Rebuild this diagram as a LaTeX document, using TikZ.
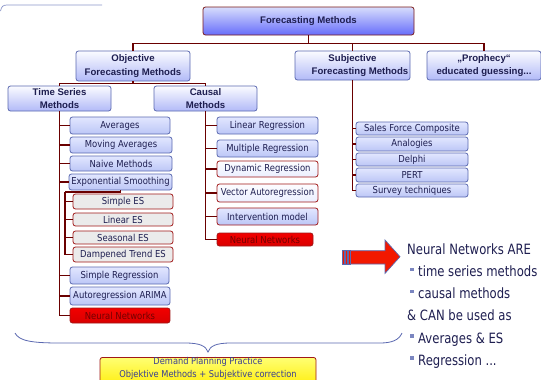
\documentclass[tikz,border=0pt]{standalone}
\usepackage{fontspec}
\setmainfont{Liberation Sans}
\newfontfamily\tah[FakeStretch=0.88]{DejaVu Sans}
\newfontfamily\tahr[FakeStretch=0.82]{DejaVu Sans}
\definecolor{conn}{HTML}{6A0000}
\definecolor{bblue}{HTML}{5A68B0}
\definecolor{navy}{HTML}{1E1E50}
\definecolor{redb}{HTML}{A01818}
\definecolor{lb1}{HTML}{E2E7FF}
\definecolor{lb2}{HTML}{BCC6F6}
\definecolor{txtb}{HTML}{3A3F90}
\tikzset{
  conline/.style={draw=conn, line width=1.8pt},
  boxbase/.style={rounded corners=2.5pt, line width=0.8pt, inner sep=0pt, text=navy},
  headbox/.style={boxbase, draw=bblue, top color=white!85!lb1, bottom color=lb2!90!blue!90, font=\bfseries\fontsize{9.6}{13.6}\selectfont, align=center},
  childbox/.style={boxbase, draw=bblue, top color=lb1, bottom color=lb2, font=\tah\fontsize{9.6}{11}\selectfont},
  esbox/.style={boxbase, draw=redb, fill=black!8, font=\tah\fontsize{9.6}{11}\selectfont},
  palebox/.style={boxbase, draw=redb, top color=white!92!lb1, bottom color=lb1!70!white, font=\tah\fontsize{9.6}{11}\selectfont},
  redbluebox/.style={boxbase, draw=redb, top color=lb1, bottom color=lb2, font=\tah\fontsize{9.6}{11}\selectfont},
  nnbox/.style={boxbase, draw=redb, top color=red!95!black, bottom color=red!85!black, text=red!45!black, font=\tah\fontsize{9.6}{11}\selectfont},
  rtext/.style={anchor=base west, inner sep=0pt, text=navy, font=\tahr\fontsize{14.2}{18}\selectfont},
  bull/.style={fill=bblue!80, minimum size=3.6pt, inner sep=0pt},
}
\begin{document}
\begin{tikzpicture}[x=1pt,y=-1pt]
\useasboundingbox (0,0) rectangle (541,380);
\clip (0,0) rectangle (541,380);

% top-left stray line
\draw[bblue!70, line width=0.7pt] (0.5,11) .. controls (1.5,6.5) and (3,5) .. (7,5) -- (102,5);

% headers
\node[headbox, draw=conn!90, top color=lb1!70!lb2, bottom color=blue!45!lb2, minimum width=211pt, minimum height=28pt] (fm) at (308.5,21) {Forecasting Methods};
\node[headbox, minimum width=114pt, minimum height=30pt] (obj) at (133,66) {Objective\\Forecasting Methods};
\node[headbox, minimum width=115pt, minimum height=29pt] (subj) at (352.5,65.5) {Subjective\\\hspace*{15pt}Forecasting Methods};
\node[headbox, minimum width=114pt, minimum height=29pt] (proph) at (484,65.5) {„Prophecy“\\educated guessing...};
\node[headbox, minimum width=103pt, minimum height=25pt] (ts) at (59.5,98.5) {Time Series\\Methods};
\node[headbox, minimum width=103pt, minimum height=25pt] (causal) at (205.5,98.5) {Causal\\Methods};

% time series children
\node[childbox, minimum width=100pt, minimum height=17pt] (avg) at (120,125.5) {Averages};
\node[childbox, minimum width=102pt, minimum height=16pt] (mavg) at (121,145) {Moving Averages};
\node[childbox, minimum width=102pt, minimum height=15pt] (naive) at (121,163.5) {Naive Methods};
\node[childbox, minimum width=103pt, minimum height=16pt] (exps) at (120.5,182) {Exponential Smoothing};
\node[esbox, minimum width=100pt, minimum height=15pt] (ses) at (123,201.5) {Simple ES};
\node[esbox, minimum width=100pt, minimum height=13pt] (les) at (123,219.5) {Linear ES};
\node[esbox, minimum width=100pt, minimum height=13pt] (sea) at (123,237.5) {Seasonal ES};
\node[esbox, minimum width=100pt, minimum height=15pt] (dte) at (123,254.5) {Dampened Trend ES};
\node[childbox, minimum width=99pt, minimum height=17pt] (sreg) at (119.5,275.5) {Simple Regression};
\node[childbox, minimum width=100pt, minimum height=18pt] (arima) at (120,296) {Autoregression ARIMA};
\node[nnbox, minimum width=100pt, minimum height=15pt] (nn1) at (120,315.5) {Neural Networks};

% causal children
\node[childbox, minimum width=101pt, minimum height=17pt] (lreg) at (267.5,125.5) {Linear Regression};
\node[childbox, minimum width=101pt, minimum height=17pt] (mreg) at (267.5,148.5) {Multiple Regression};
\node[palebox, minimum width=101pt, minimum height=16pt] (dreg) at (267.5,169) {Dynamic Regression};
\node[palebox, minimum width=101pt, minimum height=18pt] (var) at (267.5,193) {Vector Autoregression};
\node[redbluebox, minimum width=101pt, minimum height=17pt] (interv) at (267.5,216.5) {Intervention model};
\node[nnbox, minimum width=96pt, minimum height=13pt] (nn2) at (265,239.5) {Neural Networks};

% subjective children
\node[childbox, minimum width=112pt, minimum height=13pt] (sfc) at (412,128.5) {Sales Force Composite};
\node[childbox, minimum width=112pt, minimum height=14pt] (analog) at (412,144) {Analogies};
\node[childbox, minimum width=112pt, minimum height=13pt] (delphi) at (412,159.5) {Delphi};
\node[childbox, minimum width=112pt, minimum height=14pt] (pert) at (412,175) {PERT};
\node[childbox, minimum width=112pt, minimum height=13pt] (survey) at (412,190.5) {Survey techniques};

% connectors
\draw[conline] (fm.south) -- ++(0,8) -| (obj.north);
\draw[conline] (fm.south) -- ++(0,8) -| (subj.north);
\draw[conline] (fm.south) -- ++(0,8) -| (proph.north);
\draw[conline] (obj.south) -- ++(0,2) -| (ts.north);
\draw[conline] (obj.south) -- ++(0,2) -| (causal.north);
\foreach \n in {avg,mavg,naive,exps,sreg,arima,nn1}
  \draw[conline] (ts.south) |- (\n.west);
\coordinate (esj) at (65,192);
\draw[conline] (exps.south) |- (esj);
\foreach \n in {ses,les,sea,dte}
  \draw[conline] (esj) |- (\n.west);
\foreach \n in {lreg,mreg,dreg,var,interv,nn2}
  \draw[conline] (causal.south) |- (\n.west);
\foreach \n in {sfc,analog,delphi,pert,survey}
  \draw[conline] (subj.south) |- (\n.west);

% arrow
\draw[bblue, line width=0.7pt, fill=red!80!orange!95!black]
  (350,250.7) -- (385,250.7) -- (385,240) -- (400,256.7) -- (385,273.4) -- (385,264) -- (350,264) -- cycle;
\foreach \xa in {342,345.3,348}
  \draw[bblue, line width=0.5pt, fill=red!80!orange!95!black] (\xa,250.7) rectangle ++(1.8,13.3);

% right text
\node[rtext] (r1) at (407,254.5) {Neural Networks ARE};
\node[bull] (b2) at (412,269.5) {};
\node[rtext] (r2) at (418,276.5) {time series methods};
\node[bull] (b3) at (412,291.5) {};
\node[rtext] (r3) at (418,298.5) {causal methods};
\node[rtext] (r4) at (407,320.8) {\& CAN be used as};
\node[bull] (b5) at (412,336) {};
\node[rtext] (r5) at (418,343) {Averages \& ES};
\node[bull] (b6) at (412,358) {};
\node[rtext] (r6) at (418,365) {Regression ...};

% brace
\draw[bblue, line width=0.8pt]
  (15,333) .. controls (19,341) and (32,343) .. (60,343) -- (185,343)
  .. controls (200,343) and (206,346) .. (208,352)
  .. controls (210,346) and (216,343) .. (231,343) -- (380,343)
  .. controls (392,343) and (399,340) .. (402,333);

% bottom box
\node[boxbase, draw=redb, top color=yellow!55!white, bottom color=yellow!85!orange, minimum width=216pt, minimum height=32pt, anchor=north] (dpp) at (208,357) {};
\node[inner sep=0pt, text=txtb, align=center, font=\tah\fontsize{9.4}{13}\selectfont] (dppt) at (208,368.5) {Demand Planning Practice\\Objektive Methods + Subjektive correction};
\end{tikzpicture}
\end{document}
